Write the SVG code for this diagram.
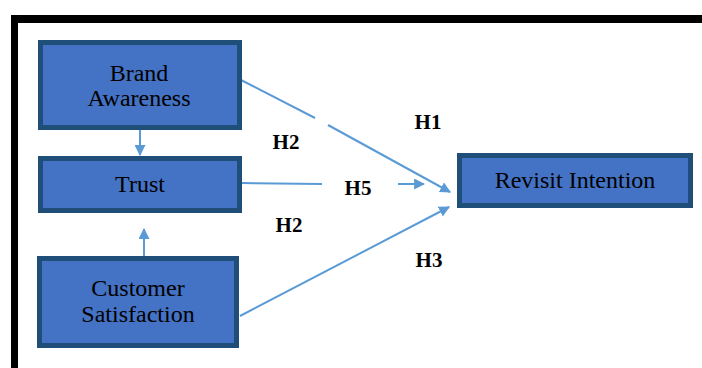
<svg xmlns="http://www.w3.org/2000/svg" width="702" height="368" viewBox="0 0 702 368">
<style>
.box{fill:#4472C4;stroke:#1F4E79;stroke-width:5}
.t{font-family:"Liberation Serif","Times New Roman",serif;font-size:24px;fill:#000;text-anchor:middle}
.h{font-family:"Liberation Serif","Times New Roman",serif;font-size:21px;font-weight:bold;fill:#000;text-anchor:middle}
.c{stroke:#5B9BD5;stroke-width:2;fill:none}
</style>
<defs>
<marker id="ahb" viewBox="0 0 10 10" refX="9" refY="5" markerWidth="11" markerHeight="11" markerUnits="userSpaceOnUse" orient="auto">
<path d="M0,0 L10,5 L0,10 z" fill="#5B9BD5"/>
</marker>
</defs>
<rect width="702" height="368" fill="#fff"/>
<g id="frame">
<rect x="11" y="15" width="691" height="8" fill="#000"/>
<rect x="11" y="15" width="7" height="353" fill="#000"/>
</g>
<g id="connectors">
<line class="c" x1="140" y1="130" x2="140" y2="155" marker-end="url(#ahb)"/>
<line class="c" x1="144" y1="256" x2="144" y2="229" marker-end="url(#ahb)"/>
<line class="c" x1="241" y1="80" x2="315" y2="118"/>
<line class="c" x1="328" y1="125" x2="450" y2="192" marker-end="url(#ahb)"/>
<line class="c" x1="242" y1="183" x2="322" y2="184"/>
<line class="c" x1="398" y1="184" x2="424" y2="184" marker-end="url(#ahb)"/>
<line class="c" x1="240" y1="316" x2="449" y2="207" marker-end="url(#ahb)"/>
</g>
<g id="brand-awareness">
<rect class="box" x="40.5" y="42.5" width="199" height="85"/>
<text class="t" x="139" y="81">Brand</text>
<text class="t" x="139" y="106">Awareness</text>
</g>
<g id="trust">
<rect class="box" x="40.5" y="158.5" width="199" height="52"/>
<text class="t" x="140" y="192">Trust</text>
</g>
<g id="customer-satisfaction">
<rect class="box" x="39.5" y="258.5" width="197" height="87"/>
<text class="t" x="138" y="296">Customer</text>
<text class="t" x="138" y="322">Satisfaction</text>
</g>
<g id="revisit-intention">
<rect class="box" x="459.5" y="155.5" width="231" height="50"/>
<text class="t" x="575" y="188">Revisit Intention</text>
</g>
<g id="labels">
<text class="h" x="428" y="129">H1</text>
<text class="h" x="286" y="149">H2</text>
<text class="h" x="358" y="195">H5</text>
<text class="h" x="289" y="232">H2</text>
<text class="h" x="429" y="267">H3</text>
</g>
</svg>
